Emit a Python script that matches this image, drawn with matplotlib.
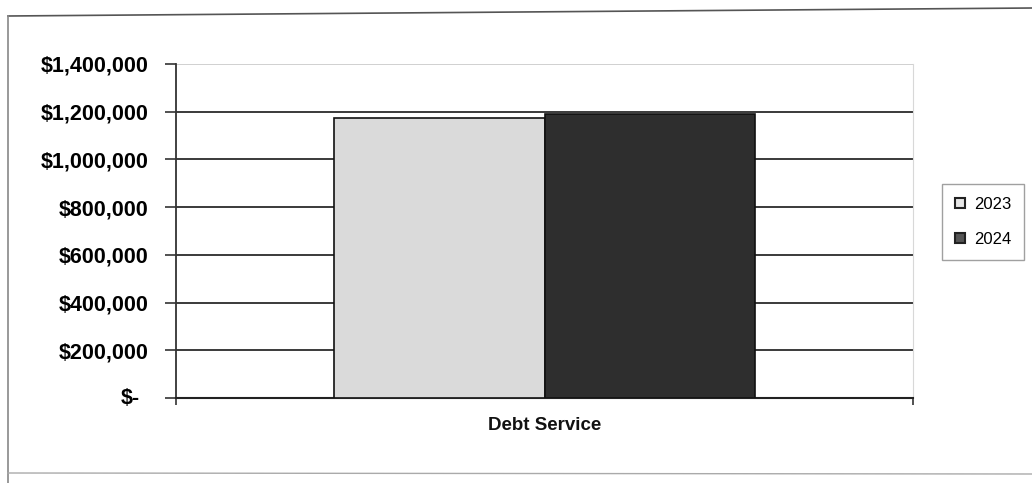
import matplotlib
matplotlib.use("Agg")
import matplotlib.pyplot as plt
from matplotlib.patches import Patch
from matplotlib.lines import Line2D
from matplotlib.ticker import FuncFormatter

# Data
categories = ["Debt Service"]
years = ["2023", "2024"]
values_2023 = [1175000]
values_2024 = [1190000]
y_ticks = [0, 200000, 400000, 600000, 800000, 1000000, 1200000, 1400000]

plt.rcParams['font.family'] = ['Liberation Sans', 'DejaVu Sans']

W, H = 1032, 483
fig = plt.figure(figsize=(W / 100, H / 100), dpi=100)
fig.patch.set_facecolor("white")

# plot area in pixel terms
left, right, top, bottom = 176, 913, 64, 398
ax = fig.add_axes([left / W, (H - bottom) / H, (right - left) / W, (bottom - top) / H])

bar_w = 0.2855
x = [0]
ax.bar([v - bar_w / 2 for v in x], values_2023, width=bar_w, color="#dadada",
       edgecolor="#111111", linewidth=1.2, zorder=3, label=years[0])
ax.bar([v + bar_w / 2 for v in x], values_2024, width=bar_w, color="#2e2e2e",
       edgecolor="#111111", linewidth=1.2, zorder=3, label=years[1])

ax.set_xlim(-0.5, 0.5)
ax.set_ylim(0, 1400000)
ax.set_yticks(y_ticks)


def money(v, pos):
    if v == 0:
        return ""
    return "${:,.0f}".format(v)


ax.yaxis.set_major_formatter(FuncFormatter(money))
ax.tick_params(axis="y", direction="out", length=8, width=1.2, color="#333333",
               labelsize=15.5, pad=12)
for lab in ax.get_yticklabels():
    lab.set_fontweight("bold")
# zero label in accounting style, set a little further left
ax.annotate("$-", xy=(0, 0), xycoords=("axes fraction", "data"),
            xytext=(-26, 0), textcoords="offset points", ha="right", va="center",
            fontsize=15.5, fontweight="bold", color="black")

ax.set_xticks([-0.5, 0.5], minor=False)
ax.set_xticklabels(["", ""])
ax.tick_params(axis="x", direction="out", length=5, width=1.2, color="#333333")
ax.text(0, -0.057, categories[0], transform=ax.get_xaxis_transform(),
        ha="center", va="top", fontsize=13.5, fontweight="bold", color="#111111")

ax.yaxis.grid(True, color="#3a3a3a", linewidth=1.4, zorder=0)
ax.set_axisbelow(True)
fig.canvas.draw()
ax.yaxis.get_gridlines()[-1].set_color("#d0d0d0")

ax.spines["left"].set_color("#333333")
ax.spines["left"].set_linewidth(1.3)
ax.spines["bottom"].set_color("#222222")
ax.spines["bottom"].set_linewidth(1.5)
ax.spines["top"].set_visible(False)
ax.spines["right"].set_color("#d8d8d8")
ax.spines["right"].set_linewidth(0.8)

handles = [Patch(facecolor="#e6e6e6", edgecolor="#222222", linewidth=1.5),
           Patch(facecolor="#555555", edgecolor="#222222", linewidth=1.5)]
leg = fig.legend(handles, years, loc="center left",
                 bbox_to_anchor=(942 / W, (H - 222) / H),
                 fontsize=12, frameon=True, fancybox=False,
                 handlelength=0.6, handleheight=0.6, handletextpad=0.5,
                 labelspacing=1.2, borderpad=0.8, borderaxespad=0)
leg.get_frame().set_edgecolor("#888888")
leg.get_frame().set_linewidth(1.0)

# outer chart frame
def fx(px):
    return px / W


def fy(py):
    return (H - py) / H


fig.add_artist(Line2D([fx(8), fx(1032)], [fy(16), fy(8)], color="#555555", linewidth=1.2))
fig.add_artist(Line2D([fx(8), fx(8)], [fy(16), fy(483)], color="#888888", linewidth=1.2))
fig.add_artist(Line2D([fx(8), fx(1032)], [fy(473), fy(474)], color="#aaaaaa", linewidth=1.0))

fig.savefig("out.png", dpi=100)
